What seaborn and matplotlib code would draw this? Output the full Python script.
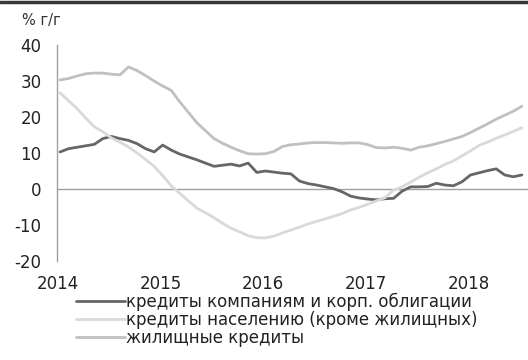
import numpy as np
import pandas as pd
import seaborn as sns
import matplotlib.pyplot as plt
from matplotlib.lines import Line2D

# Monthly year-on-year growth, Jan 2014 - Jul 2018 (%)
months = pd.date_range("2014-01-01", periods=55, freq="MS")

corporate = [10.3, 11.2, 11.6, 12.0, 12.4, 14.0, 14.6, 14.0, 13.5, 12.6, 11.2, 10.3,
             12.2, 10.8, 9.7, 8.9, 8.1, 7.2, 6.3, 6.6, 6.9, 6.4, 7.2, 4.6,
             5.0, 4.7, 4.4, 4.2, 2.2, 1.5, 1.1, 0.6, 0.1, -0.8, -2.0, -2.5,
             -2.8, -3.0, -2.7, -2.6, -0.6, 0.6, 0.6, 0.7, 1.6, 1.1, 0.9, 2.0,
             3.9, 4.5, 5.1, 5.6, 3.9, 3.4, 3.9]

consumer = [26.7, 24.5, 22.3, 19.7, 17.3, 15.9, 14.2, 13.0, 11.7, 10.0, 8.2, 6.3,
            3.7, 0.9, -1.2, -3.3, -5.3, -6.6, -8.0, -9.5, -10.9, -11.9, -13.0, -13.5,
            -13.6, -13.1, -12.2, -11.4, -10.6, -9.7, -9.0, -8.3, -7.6, -6.8, -5.8, -5.1,
            -4.2, -3.3, -2.4, -0.3, 0.6, 1.9, 3.3, 4.5, 5.6, 6.8, 7.8, 9.2,
            10.6, 12.1, 13.0, 14.1, 15.0, 16.0, 17.0]

housing = [30.3, 30.7, 31.4, 32.0, 32.2, 32.2, 31.9, 31.7, 33.9, 32.9, 31.5, 30.0,
           28.6, 27.4, 24.2, 21.3, 18.4, 16.2, 14.0, 12.7, 11.6, 10.6, 9.8, 9.7,
           9.8, 10.4, 11.8, 12.3, 12.5, 12.8, 12.9, 12.9, 12.8, 12.7, 12.8, 12.8,
           12.3, 11.5, 11.4, 11.6, 11.3, 10.8, 11.6, 12.0, 12.6, 13.2, 13.9, 14.6,
           15.7, 16.9, 18.1, 19.4, 20.5, 21.6, 23.0]

series_names = ["кредиты компаниям и корп. облигации",
                "кредиты населению (кроме жилищных)",
                "жилищные кредиты"]
series_colors = ["#666666", "#d9d9d9", "#c0c0c0"]
year_ticks = [2014, 2015, 2016, 2017, 2018]
y_ticks = [-20, -10, 0, 10, 20, 30, 40]

# fractional year for each month
t = months.year + (months.month - 1) / 12 + 0.02

df = pd.concat([
    pd.DataFrame({"t": t, "value": vals, "series": name})
    for name, vals in zip(series_names, [corporate, consumer, housing])
])

sns.set_style("white")
plt.rcParams["font.family"] = ["DejaVu Sans"]

fig = plt.figure(figsize=(5.28, 3.6), dpi=100)
ax = fig.add_axes([57 / 528, 1 - 261 / 360, 1 - 57 / 528, (261 - 45) / 360])

sns.lineplot(data=df, x="t", y="value", hue="series", hue_order=series_names,
             palette=series_colors, linewidth=2.0, ax=ax, legend=False)

ax.set_xlim(2013.99, 2018.58)
ax.set_ylim(-20, 40)
ax.set_xlabel("")
ax.set_ylabel("")

for s in ["top", "right"]:
    ax.spines[s].set_visible(False)
ax.spines["left"].set_color("#a0a0a0")
ax.spines["left"].set_linewidth(1.0)
ax.spines["bottom"].set_position(("data", 0))
ax.spines["bottom"].set_color("#a0a0a0")
ax.spines["bottom"].set_linewidth(1.0)
ax.spines["bottom"].set_zorder(0)

ax.set_yticks(y_ticks)
ax.set_yticklabels([str(v) for v in y_ticks])
ax.set_xticks(year_ticks)
ax.set_xticklabels([str(v) for v in year_ticks])
ax.tick_params(axis="y", direction="out", length=3, width=1, color="#a0a0a0",
               labelsize=12, labelcolor="#222222", pad=8)
ax.tick_params(axis="x", direction="out", length=2, width=1, color="#a0a0a0",
               labelsize=12, labelcolor="#222222", pad=60)

fig.text(22 / 528, 1 - 20 / 360, "% г/г", fontsize=10.5, color="#333333",
         va="center", ha="left")

handles = [Line2D([], [], color=c, linewidth=2.0) for c in series_colors]
fig.legend(handles, series_names, loc="upper left",
           bbox_to_anchor=(68 / 528, 1 - 284 / 360), frameon=False,
           fontsize=12, handlelength=2.9, handletextpad=0.1, labelspacing=0.0,
           borderpad=0, labelcolor="#222222")

# frame line along the top edge
fig.add_artist(Line2D([0, 1], [1 - 2 / 360, 1 - 2 / 360], transform=fig.transFigure,
                      color="#333a40", linewidth=2.5))

fig.savefig("out.png", dpi=100)
